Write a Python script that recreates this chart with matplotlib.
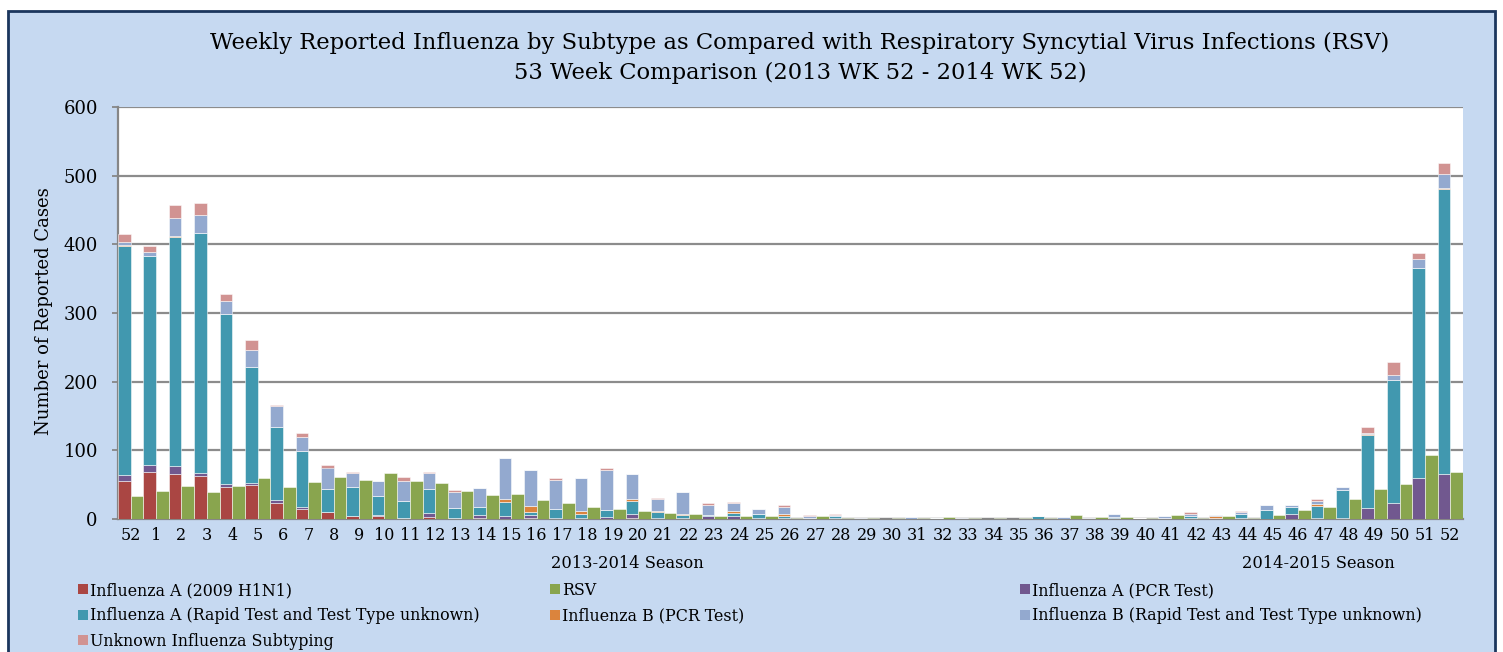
import matplotlib.pyplot as plt
from matplotlib.patches import Rectangle, Patch
import numpy as np

weeks = ['52'] + [str(w) for w in range(1, 53)]

# flu by subtype, stacked in this order (bottom to top)
h1n1 = [55, 68, 65, 63, 46, 49, 23, 15, 10, 4, 5, 1, 3, 1, 2, 0, 1, 0, 0, 0, 1, 0, 0, 0, 0, 0, 0,
        0, 0, 0, 0, 0, 0, 0, 0, 0, 0, 0, 0, 0, 1, 0, 0, 0, 0, 0, 0, 0, 0, 0, 0, 0, 0]
pcr_a = [9, 10, 12, 4, 5, 3, 4, 2, 0, 1, 1, 0, 6, 0, 4, 5, 5, 2, 2, 3, 7, 1, 2, 4, 4, 1, 2,
         0, 1, 0, 0, 0, 0, 0, 0, 0, 0, 0, 0, 1, 1, 1, 1, 1, 2, 0, 8, 1, 2, 16, 23, 60, 66]
rapid_a = [333, 305, 334, 350, 248, 170, 107, 82, 33, 41, 27, 25, 34, 15, 12, 20, 4.5, 13, 5, 10, 18, 9, 4,
           2, 5, 6, 3, 1, 4, 0, 0, 0, 1, 0, 0, 0, 5, 0, 0, 2, 0, 0, 4, 0, 5, 13, 10, 18, 40, 106, 179, 306, 414]
pcr_b = [2, 0, 1, 0, 0, 0, 0, 0, 0, 1, 0, 0, 0, 0, 0, 4, 9, 0, 5, 0, 3, 2, 1, 0, 2, 0, 3,
         0, 0, 0, 0, 0, 0, 0, 0, 0, 0, 0, 0, 0, 0, 0, 0, 4, 0, 0, 0, 3, 0, 2, 0, 0, 2]
rapid_b = [4, 6, 26, 25, 18, 24, 30, 20, 32, 20, 23, 29, 24, 24, 27, 60, 52, 42, 47, 59, 37, 17, 32,
           15, 12, 7, 9, 4, 1, 1, 0, 3, 0, 2, 0, 0, 0, 3, 1, 5, 0, 3, 3, 1, 3, 7, 2, 4, 4, 1, 8, 13, 20]
unknown = [12, 8, 20, 18, 11, 14, 2, 6, 4, 1, 0, 6, 1, 2, 0, 0, 0, 3, 1, 2, 0, 1, 0,
           3, 2, 0, 3, 1, 1, 0, 0, 0, 0, 0, 0, 0, 0, 0, 0, 0, 0, 0, 2, 0, 2, 0, 0, 3, 0, 9, 18, 8, 16]
rsv = [34, 41, 48, 39, 48, 60, 47, 54, 61, 57, 67, 55, 52, 41, 35, 36, 28, 23, 18, 15, 11, 9, 8,
       5, 5, 5, 2, 4, 2, 1, 1, 1, 3, 2, 1, 1, 1, 6, 3, 3, 2, 6, 1, 5, 2, 6, 13, 18, 29, 43, 51, 93, 68]

flu_series = [
    ('Influenza A (2009 H1N1)', h1n1, '#AA4643'),
    ('Influenza A (PCR Test)', pcr_a, '#71588F'),
    ('Influenza A (Rapid Test and Test Type unknown)', rapid_a, '#4198AF'),
    ('Influenza B (PCR Test)', pcr_b, '#DB843D'),
    ('Influenza B (Rapid Test and Test Type unknown)', rapid_b, '#93A9CF'),
    ('Unknown Influenza Subtyping', unknown, '#D19392'),
]
rsv_color = '#89A54E'

W, H = 1503, 652
plt.rcParams['font.family'] = 'DejaVu Serif'
fig = plt.figure(figsize=(W / 100, H / 100), dpi=100)
fig.patch.set_facecolor('white')

# chart area frame, behind everything else
fig.patches.append(Rectangle((8 / W, -0.05), (1495 - 8) / W, 1 - 11 / H + 0.05,
                             transform=fig.transFigure, facecolor='#C6D9F1',
                             edgecolor='#1B365D', lw=2, zorder=-5))

ax = fig.add_axes([118 / W, 1 - 519 / H, (1463 - 118) / W, (519 - 107) / H])
ax.set_zorder(2)
ax.set_facecolor('white')

x = np.arange(len(weeks))
bottom = np.zeros(len(weeks))
for name, vals, col in flu_series:
    vals = np.array(vals, dtype=float)
    ax.bar(x - 0.25, vals, width=0.5, bottom=bottom, color=col,
           edgecolor=(1, 1, 1, 0.6), linewidth=0.6, zorder=3)
    bottom += vals
ax.bar(x + 0.25, rsv, width=0.5, color=rsv_color,
       edgecolor=(1, 1, 1, 0.6), linewidth=0.6, zorder=3)

ax.set_xlim(-0.5, len(weeks) - 0.5)
ax.set_ylim(0, 600)
ax.set_yticks(range(0, 601, 100))
ax.set_xticks(x)
ax.set_xticklabels(weeks)
ax.tick_params(axis='x', length=0, labelsize=11.5, pad=6)
ax.tick_params(axis='y', length=4.5, width=1.3, color='#868686', labelsize=13, pad=10)
ax.yaxis.grid(True, color='#8C8C8C', lw=1.6, zorder=1)
ax.set_axisbelow(True)
for s in ['top', 'right']:
    ax.spines[s].set_visible(False)
for s in ['left', 'bottom']:
    ax.spines[s].set_color('#868686')
    ax.spines[s].set_linewidth(1.6)

fig.text(800 / W, 1 - 43 / H, 'Weekly Reported Influenza by Subtype as Compared with Respiratory Syncytial Virus Infections (RSV)',
         ha='center', va='center', fontsize=16.3)
fig.text(800 / W, 1 - 73 / H, '53 Week Comparison (2013 WK 52 - 2014 WK 52)',
         ha='center', va='center', fontsize=16.3)
fig.text(44 / W, 1 - 311 / H, 'Number of Reported Cases', rotation=90,
         ha='center', va='center', fontsize=13)
fig.text(627 / W, 1 - 564 / H, '2013-2014 Season', ha='center', va='center', fontsize=11.7)
fig.text(1318 / W, 1 - 564 / H, '2014-2015 Season', ha='center', va='center', fontsize=11.7)

# legend in three columns, filled row by row
cols = {name: col for name, _, col in flu_series}
cols['RSV'] = rsv_color
columns = [
    (78, ['Influenza A (2009 H1N1)', 'Influenza A (Rapid Test and Test Type unknown)', 'Unknown Influenza Subtyping']),
    (550, ['RSV', 'Influenza B (PCR Test)']),
    (1020, ['Influenza A (PCR Test)', 'Influenza B (Rapid Test and Test Type unknown)']),
]
for xpos, names in columns:
    handles = [Patch(facecolor=cols[n], edgecolor='none') for n in names]
    fig.legend(handles, names, loc='upper left', bbox_to_anchor=(xpos / W, 1 - 582 / H),
               frameon=False, fontsize=11.4, handlelength=0.6, handleheight=0.6,
               handletextpad=0.15, labelspacing=0.53, borderpad=0, borderaxespad=0)

fig.savefig('out.png', dpi=100)
